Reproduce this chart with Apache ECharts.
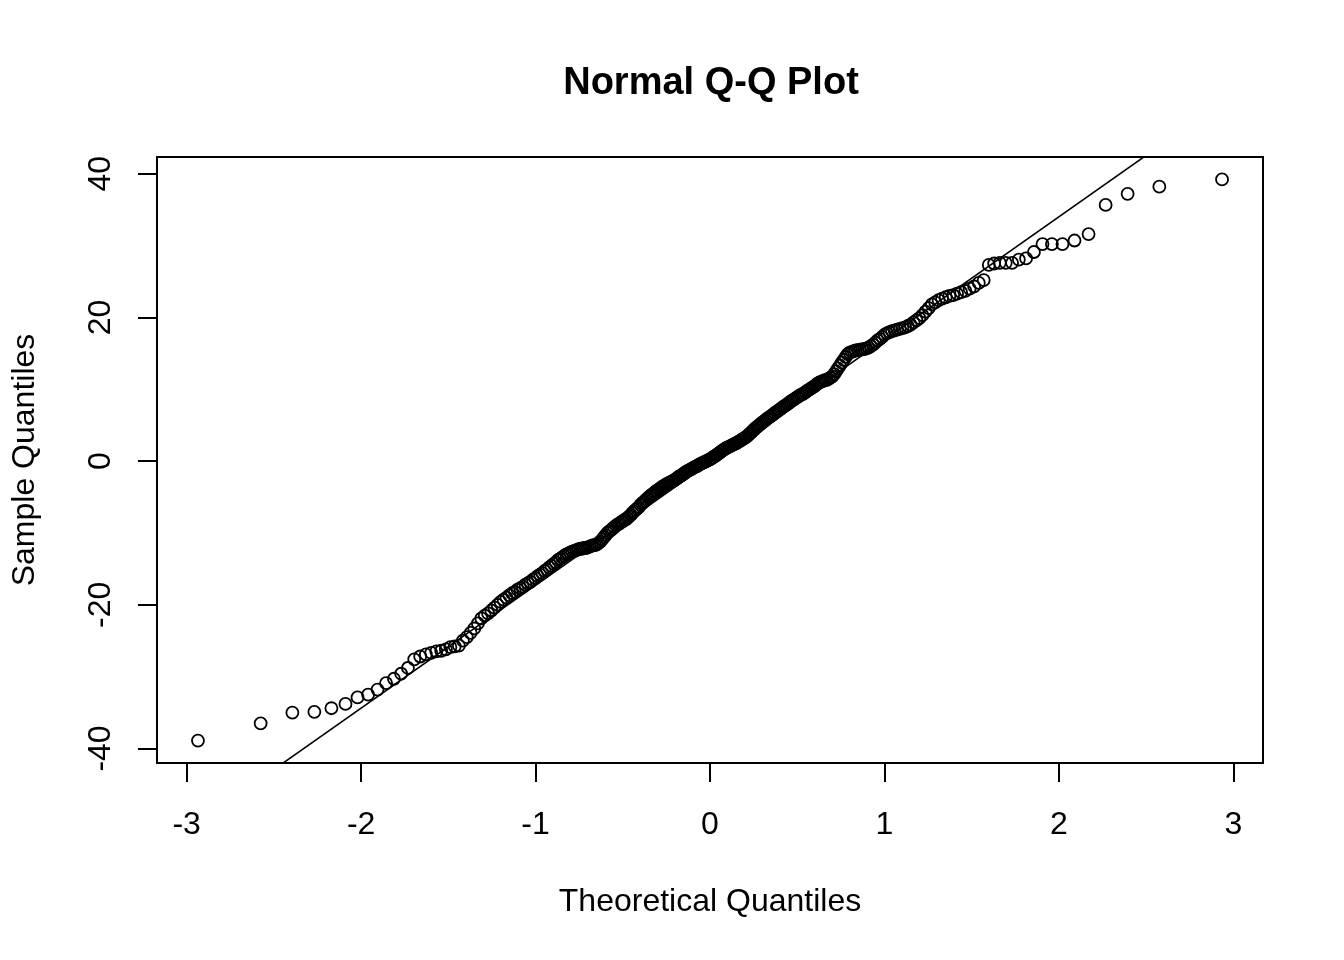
<!DOCTYPE html>
<html>
<head>
<meta charset="utf-8">
<title>Normal Q-Q Plot</title>
<script src="https://cdn.jsdelivr.net/npm/echarts@6.0.0/dist/echarts.min.js"></script>
<style>
  html, body { margin: 0; padding: 0; background: #fff; }
  #qq { width: 1344px; height: 960px; }
</style>
</head>
<body>
<div id="qq"></div>
<script>
// sorted sample values (300 points)
const sampleValues = [
  -38.9, -36.5, -35.0, -34.9, -34.4, -33.8, -32.9, -32.5, -31.8, -30.9,
  -30.3, -29.6, -28.8, -27.6, -27.2, -26.9, -26.7, -26.5, -26.4, -26.2,
  -25.9, -25.8, -25.7, -25.0, -24.5, -23.9, -23.3, -22.6, -21.9, -21.5,
  -21.2, -20.8, -20.4, -20.0, -19.6, -19.3, -19.0, -18.7, -18.4, -18.2,
  -17.9, -17.7, -17.5, -17.2, -17.0, -16.8, -16.5, -16.3, -16.0, -15.8,
  -15.6, -15.3, -15.1, -14.8, -14.6, -14.3, -14.1, -13.8, -13.6, -13.4,
  -13.2, -13.0, -12.9, -12.7, -12.6, -12.5, -12.4, -12.3, -12.2, -12.2,
  -12.1, -12.1, -12.0, -11.9, -11.8, -11.7, -11.7, -11.6, -11.4, -11.2,
  -10.9, -10.6, -10.3, -10.0, -9.8, -9.6, -9.4, -9.2, -9.0, -8.8,
  -8.7, -8.5, -8.4, -8.2, -8.1, -7.9, -7.7, -7.5, -7.2, -7.0,
  -6.8, -6.6, -6.4, -6.1, -5.9, -5.7, -5.5, -5.3, -5.1, -4.9,
  -4.7, -4.6, -4.4, -4.2, -4.1, -3.9, -3.8, -3.6, -3.5, -3.35,
  -3.2, -3.1, -3.0, -2.9, -2.8, -2.7, -2.5, -2.4, -2.2, -2.1,
  -2.0, -1.8, -1.7, -1.5, -1.4, -1.3, -1.2, -1.1, -0.95, -0.85,
  -0.75, -0.65, -0.5, -0.4, -0.3, -0.2, -0.1, 0.0, 0.1, 0.2,
  0.3, 0.45, 0.6, 0.7, 0.85, 1.0, 1.15, 1.3, 1.45, 1.6,
  1.75, 1.85, 1.95, 2.05, 2.15, 2.25, 2.35, 2.45, 2.55, 2.7,
  2.8, 2.95, 3.1, 3.2, 3.35, 3.5, 3.7, 3.9, 4.1, 4.3,
  4.5, 4.7, 4.85, 5.05, 5.2, 5.4, 5.55, 5.7, 5.9, 6.05,
  6.2, 6.35, 6.5, 6.7, 6.85, 7.0, 7.15, 7.3, 7.5, 7.65,
  7.8, 7.95, 8.1, 8.3, 8.45, 8.6, 8.75, 8.9, 9.05, 9.2,
  9.3, 9.45, 9.6, 9.8, 9.95, 10.1, 10.25, 10.4, 10.6, 10.8,
  10.95, 11.05, 11.15, 11.25, 11.3, 11.45, 11.6, 11.8, 12.1, 12.5,
  12.9, 13.3, 13.7, 14.1, 14.5, 14.9, 15.1, 15.2, 15.3, 15.4,
  15.45, 15.5, 15.55, 15.6, 15.7, 15.8, 16.0, 16.2, 16.5, 16.8,
  17.0, 17.3, 17.6, 17.8, 17.95, 18.1, 18.2, 18.3, 18.4, 18.5,
  18.6, 18.8, 19.0, 19.3, 19.6, 19.9, 20.3, 20.8, 21.3, 21.8,
  22.1, 22.4, 22.6, 22.8, 23.0, 23.1, 23.3, 23.5, 23.7, 24.0,
  24.3, 24.8, 25.2, 27.3, 27.5, 27.6, 27.6, 27.6, 28.05, 28.2,
  29.1, 30.2, 30.2, 30.2, 30.7, 31.6, 35.65, 37.2, 38.2, 39.2
];
const xTicks = [-3, -2, -1, 0, 1, 2, 3];
const yTicks = [-40, -20, 0, 20, 40];

// inverse normal cdf (Acklam), used for the theoretical quantiles like qqnorm
function qnorm(p) {
  const a = [-3.969683028665376e+01, 2.209460984245205e+02, -2.759285104469687e+02,
             1.383577518672690e+02, -3.066479806614716e+01, 2.506628277459239e+00];
  const b = [-5.447609879822406e+01, 1.615858368580409e+02, -1.556989798598866e+02,
             6.680131188771972e+01, -1.328068155288572e+01];
  const c = [-7.784894002430293e-03, -3.223964580411365e-01, -2.400758277161838e+00,
             -2.549732539343734e+00, 4.374664141464968e+00, 2.938163982698783e+00];
  const d = [7.784695709041462e-03, 3.224671290700398e-01, 2.445134137142996e+00,
             3.754408661907416e+00];
  const plow = 0.02425;
  let q, r;
  if (p < plow) {
    q = Math.sqrt(-2 * Math.log(p));
    return (((((c[0]*q+c[1])*q+c[2])*q+c[3])*q+c[4])*q+c[5]) /
           ((((d[0]*q+d[1])*q+d[2])*q+d[3])*q+1);
  }
  if (p > 1 - plow) {
    q = Math.sqrt(-2 * Math.log(1 - p));
    return -(((((c[0]*q+c[1])*q+c[2])*q+c[3])*q+c[4])*q+c[5]) /
            ((((d[0]*q+d[1])*q+d[2])*q+d[3])*q+1);
  }
  q = p - 0.5;
  r = q * q;
  return (((((a[0]*r+a[1])*r+a[2])*r+a[3])*r+a[4])*r+a[5])*q /
         (((((b[0]*r+b[1])*r+b[2])*r+b[3])*r+b[4])*r+1);
}

// quantile type 7
function quantile(sorted, p) {
  const h = (sorted.length - 1) * p;
  const lo = Math.floor(h);
  return sorted[lo] + (h - lo) * (sorted[Math.min(lo + 1, sorted.length - 1)] - sorted[lo]);
}

const n = sampleValues.length;
const points = sampleValues.map((v, i) => [qnorm((i + 0.5) / n), v]);

// qqline through the quartiles
const y25 = quantile(sampleValues, 0.25), y75 = quantile(sampleValues, 0.75);
const slope = (y75 - y25) / (qnorm(0.75) - qnorm(0.25));
const intercept = y25 - slope * qnorm(0.25);

// R style 4% padding of the ranges
function padRange(arr) {
  const lo = Math.min(...arr), hi = Math.max(...arr);
  const e = (hi - lo) * 0.04;
  return [lo - e, hi + e];
}
const xr = padRange(points.map(p => p[0]));
const yr = padRange(sampleValues);
const linePts = [[xr[0], intercept + slope * xr[0]], [xr[1], intercept + slope * xr[1]]];

const font = 'Liberation Sans, Arial, sans-serif';
var myChart = echarts.init(document.getElementById('qq'));
var option = {
  animation: false,
  backgroundColor: '#fff',
  title: {
    text: 'Normal Q-Q Plot',
    left: 706,
    top: 60,
    textAlign: 'center',
    textStyle: { fontFamily: font, fontSize: 38, fontWeight: 'bold', color: '#000' }
  },
  grid: {
    left: 157, top: 157, right: 81, bottom: 197,
    show: true, borderColor: '#000', borderWidth: 2, backgroundColor: 'transparent'
  },
  xAxis: {
    type: 'value',
    min: xr[0], max: xr[1],
    name: 'Theoretical Quantiles',
    nameLocation: 'middle',
    nameGap: 123,
    nameTextStyle: { fontFamily: font, fontSize: 32, color: '#000' },
    axisLine: { show: true, onZero: false, lineStyle: { color: '#000', width: 2 } },
    axisTick: { show: true, inside: false, length: 19, customValues: xTicks, lineStyle: { color: '#000', width: 2 } },
    axisLabel: { show: true, margin: 46, customValues: xTicks, fontFamily: font, fontSize: 32, color: '#000' },
    splitLine: { show: false }
  },
  yAxis: {
    type: 'value',
    min: yr[0], max: yr[1],
    name: 'Sample Quantiles',
    nameLocation: 'middle',
    nameGap: 116,
    nameTextStyle: { fontFamily: font, fontSize: 32, color: '#000' },
    axisLine: { show: true, onZero: false, lineStyle: { color: '#000', width: 2 } },
    axisTick: { show: true, inside: false, length: 19, customValues: yTicks, lineStyle: { color: '#000', width: 2 } },
    axisLabel: { show: true, rotate: 90, margin: 40, customValues: yTicks, fontFamily: font, fontSize: 32, color: '#000' },
    splitLine: { show: false }
  },
  series: [
    {
      type: 'scatter',
      data: points,
      symbol: 'circle',
      symbolSize: 12,
      itemStyle: { color: 'rgba(0,0,0,0)', borderColor: '#000', borderWidth: 1.8, opacity: 1 },
      emphasis: { disabled: true }
    },
    {
      type: 'line',
      data: linePts,
      showSymbol: false,
      clip: true,
      lineStyle: { color: '#000', width: 1.6 },
      emphasis: { disabled: true }
    }
  ]
};
option && myChart.setOption(option);
</script>
</body>
</html>
